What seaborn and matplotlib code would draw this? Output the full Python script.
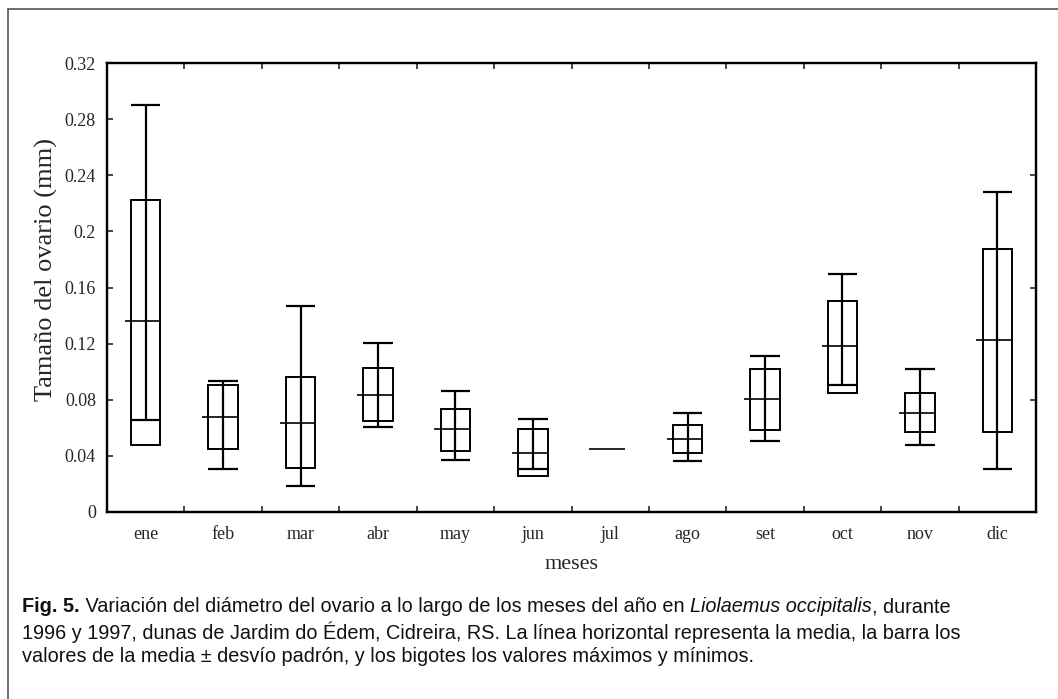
import numpy as np
import pandas as pd
import matplotlib
matplotlib.use("Agg")
import matplotlib.pyplot as plt
import seaborn as sns
from matplotlib.lines import Line2D

# Datos (mm)
meses = ["ene", "feb", "mar", "abr", "may", "jun", "jul", "ago", "set", "oct", "nov", "dic"]
media = [0.1358, 0.0675, 0.0637, 0.0831, 0.0589, 0.0421, 0.0452, 0.0520, 0.0802, 0.1186, 0.0703, 0.1226]
media_mas_de = [0.2227, 0.0902, 0.0960, 0.1025, 0.0731, 0.0589, np.nan, 0.0618, 0.1020, 0.1505, 0.0847, 0.1874]
media_menos_de = [0.0480, 0.0450, 0.0315, 0.0646, 0.0433, 0.0256, np.nan, 0.0421, 0.0582, 0.0850, 0.0568, 0.0570]
maximo = [0.2900, 0.0932, 0.1465, 0.1202, 0.0859, 0.0665, np.nan, 0.0703, 0.1110, 0.1697, 0.1018, 0.2284]
minimo = [0.0655, 0.0305, 0.0187, 0.0608, 0.0374, 0.0305, np.nan, 0.0364, 0.0509, 0.0902, 0.0474, 0.0305]

df = pd.DataFrame({"mes": meses, "media": media, "hi": media_mas_de, "lo": media_menos_de,
                   "max": maximo, "min": minimo})
df["x"] = np.arange(len(df))

sns.set_style("white")
plt.rcParams["font.family"] = ["Liberation Serif", "DejaVu Serif"]

fig = plt.figure(figsize=(10.58, 6.99), dpi=100)
ax = fig.add_axes([107 / 1058, 1 - 512 / 699, (1036 - 107) / 1058, (512 - 63) / 699])

hw = 0.19  # media anchura de la caja
lw = 1.4
cajas = df.dropna(subset=["hi"])
ax.bar(cajas["x"], cajas["hi"] - cajas["lo"], bottom=cajas["lo"], width=2 * hw,
       fill=False, edgecolor="black", linewidth=lw, zorder=2)
ax.vlines(cajas["x"], cajas["min"], cajas["max"], color="black", linewidth=1.6, zorder=3)
ax.hlines(cajas["max"], cajas["x"] - hw, cajas["x"] + hw, color="black", linewidth=1.6, zorder=3)
ax.hlines(cajas["min"], cajas["x"] - hw, cajas["x"] + hw, color="black", linewidth=1.6, zorder=3)
ax.hlines(df["media"], df["x"] - 0.27, df["x"] + hw, color="black", linewidth=1.2, zorder=3)

ax.set_xlim(-0.5, len(df) - 0.5)
ax.set_ylim(0, 0.32)
ax.set_xticks(df["x"])
ax.set_xticklabels(meses, fontsize=13)
ax.set_xticks(np.arange(0.5, len(df) - 0.5, 1), minor=True)
yt = np.arange(0, 0.33, 0.04)
ax.set_yticks(yt)
ax.set_yticklabels(["0" if v == 0 else f"{v:.2f}".rstrip("0") for v in yt], fontsize=13)
ax.tick_params(axis="x", which="major", length=0, pad=10)
ax.tick_params(axis="x", which="minor", direction="in", length=4, width=1.2, top=True, bottom=True)
ax.tick_params(axis="y", which="major", direction="in", length=4, width=1.2, pad=8)

ax2 = ax.twinx()
ax2.set_ylim(0, 0.32)
ax2.set_yticks([0.08, 0.16, 0.24])
ax2.set_yticklabels([])
ax2.tick_params(axis="y", direction="in", length=4, width=1.2)

for a in (ax, ax2):
    for s in a.spines.values():
        s.set_visible(True)
        s.set_linewidth(1.6)
        s.set_color("black")

ax.set_xlabel("meses", fontsize=16, labelpad=9)
ax.set_ylabel("Tamaño del ovario (mm)", fontsize=19)
ax.yaxis.set_label_coords(-0.053, 0.54)
ax.grid(False)

# Marco exterior
fig.add_artist(Line2D([8 / 1058, 8 / 1058], [0, 1 - 9 / 699], transform=fig.transFigure,
                      color="#555555", linewidth=1.2))
fig.add_artist(Line2D([8 / 1058, 1], [1 - 9 / 699, 1 - 9 / 699], transform=fig.transFigure,
                      color="#555555", linewidth=1.2))

# Leyenda de la figura con estilos mixtos
sans = ["Liberation Sans Narrow", "Liberation Sans", "DejaVu Sans"]
lineas = [
    [("Fig. 5.", "bold", "normal"),
     (" Variación del diámetro del ovario a lo largo de los meses del año en ", "normal", "normal"),
     ("Liolaemus occipitalis", "normal", "italic"), (", durante", "normal", "normal")],
    [("1996 y 1997, dunas de Jardim do Édem, Cidreira, RS. La línea horizontal representa la media, la barra los",
      "normal", "normal")],
    [("valores de la media ± desvío padrón, y los bigotes los valores máximos y mínimos.", "normal", "normal")],
]
ys = [607, 632, 656]
fs = 14.3
renderer = fig.canvas.get_renderer()
for partes, yp in zip(lineas, ys):
    x0 = 22
    for txt, peso, estilo in partes:
        t = fig.text(x0 / 1058, 1 - yp / 699, txt, fontsize=fs, fontweight=peso, fontstyle=estilo,
                     family=sans, va="center", ha="left", color="#111111")
        bb = t.get_window_extent(renderer=renderer)
        x0 += bb.width

fig.savefig("out.png", dpi=100)
